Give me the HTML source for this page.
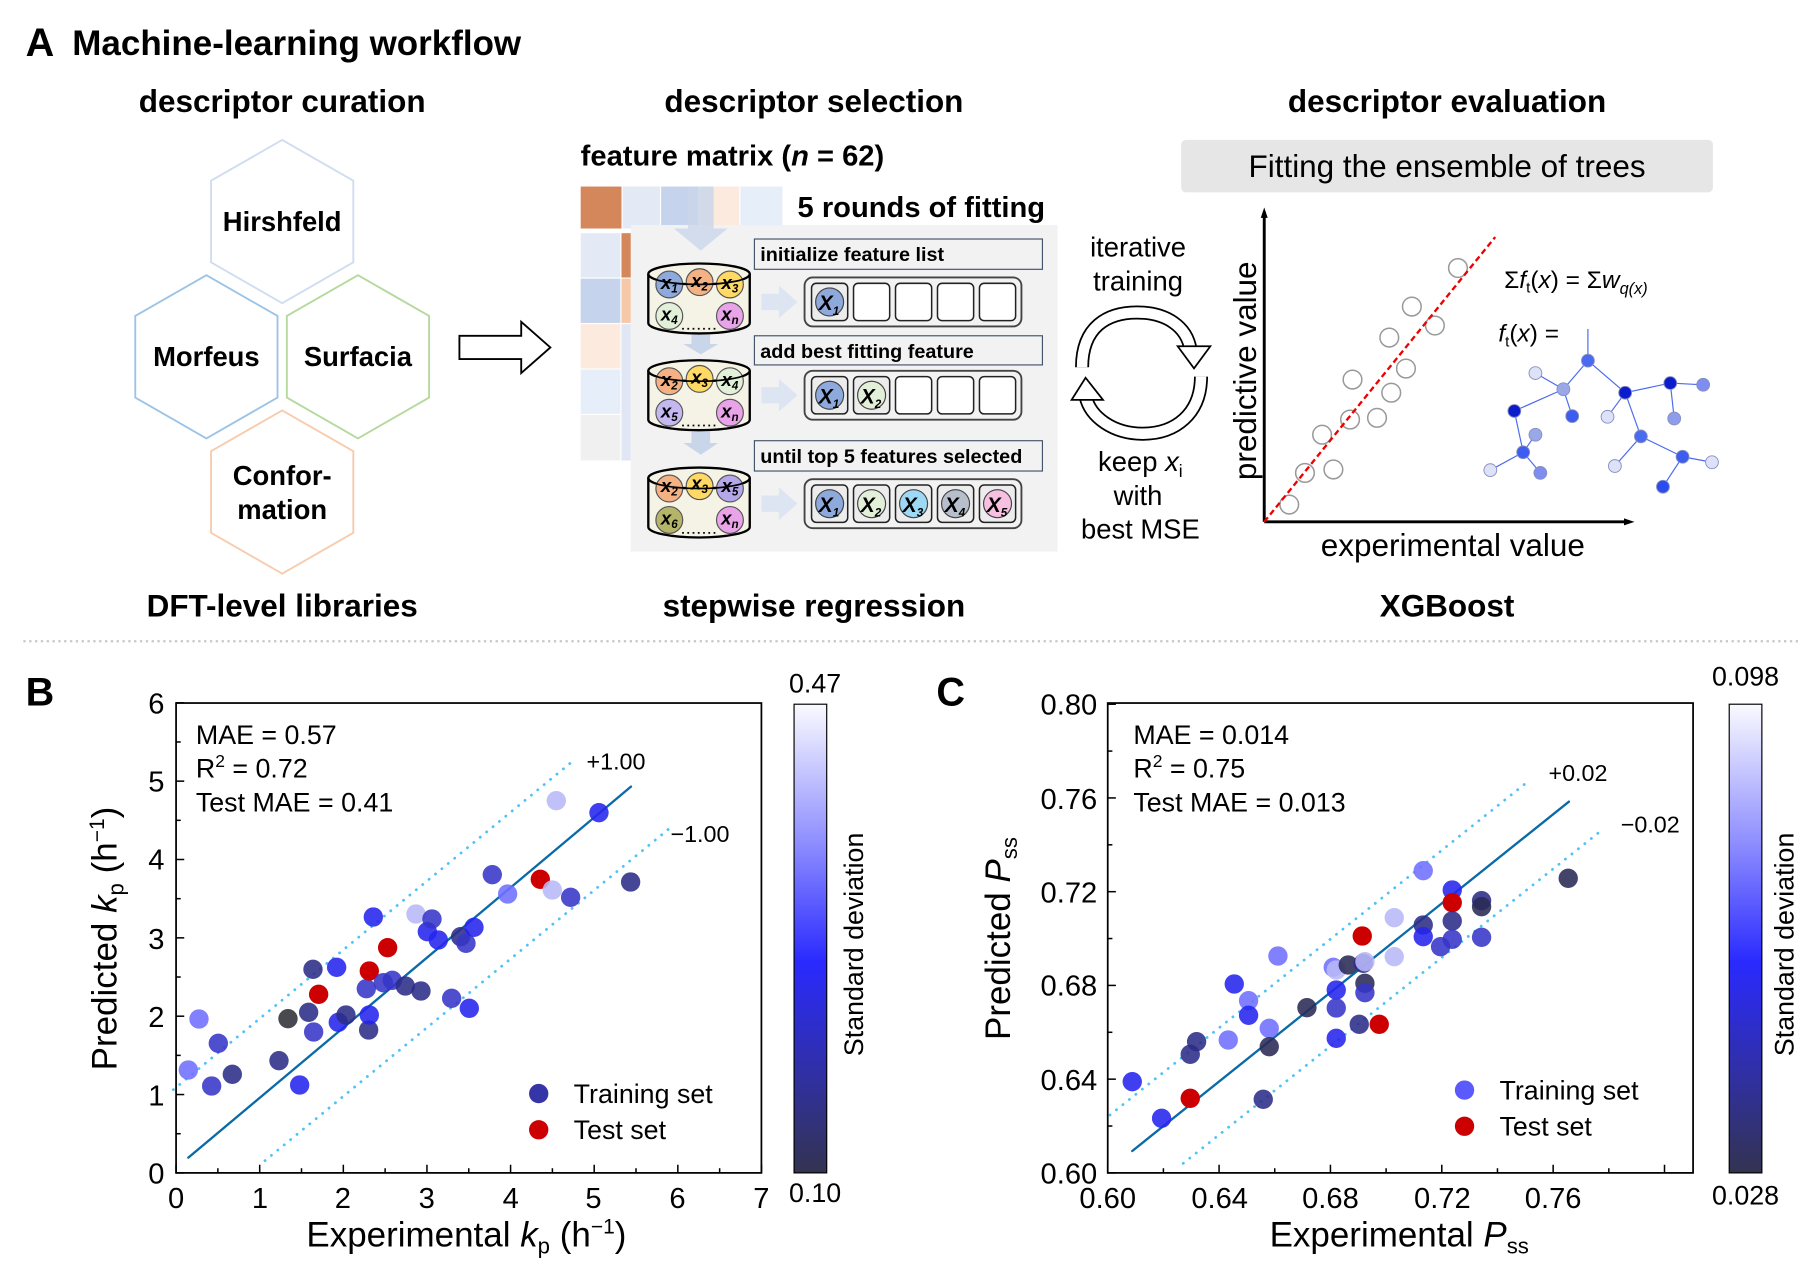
<!DOCTYPE html>
<html><head><meta charset="utf-8"><style>
html,body{margin:0;padding:0;background:#fff}
svg{display:block}
text{font-family:"Liberation Sans",Arial,sans-serif}
.b{font-weight:bold}
</style></head><body>
<svg id="s" width="1819" height="1265" viewBox="0 0 1560 1085" preserveAspectRatio="none" xmlns="http://www.w3.org/2000/svg">
<defs>
<linearGradient id="cb" x1="0" y1="0" x2="0" y2="1">
<stop offset="0" stop-color="#fafaff"/><stop offset="0.3" stop-color="#8c8cff"/><stop offset="0.55" stop-color="#2a2aff"/><stop offset="0.8" stop-color="#3030a0"/><stop offset="1" stop-color="#333350"/>
</linearGradient>
</defs>
<text x="22" y="48" font-size="34" class="b">A</text>
<text x="62" y="47" font-size="30" class="b">Machine-learning workflow</text>
<text x="242" y="96" font-size="27" class="b" text-anchor="middle">descriptor curation</text>
<text x="698" y="96" font-size="27" class="b" text-anchor="middle">descriptor selection</text>
<text x="1241" y="96" font-size="27" class="b" text-anchor="middle">descriptor evaluation</text>
<text x="242" y="529" font-size="27" class="b" text-anchor="middle">DFT-level libraries</text>
<text x="698" y="529" font-size="27" class="b" text-anchor="middle">stepwise regression</text>
<text x="1241" y="529" font-size="27" class="b" text-anchor="middle">XGBoost</text>
<line x1="20" y1="550" x2="1542" y2="550" stroke="#c8c8c8" stroke-width="2" stroke-dasharray="2,3"/>

<g fill="none" stroke-width="1.6" id="hex"></g>
<text x="242" y="198" font-size="23.5" class="b" text-anchor="middle">Hirshfeld</text>
<text x="177" y="314" font-size="23.5" class="b" text-anchor="middle">Morfeus</text>
<text x="307" y="314" font-size="23.5" class="b" text-anchor="middle">Surfacia</text>
<text x="242" y="416" font-size="23.5" class="b" text-anchor="middle">Confor-</text>
<text x="242" y="445" font-size="23.5" class="b" text-anchor="middle">mation</text>
<polygon points="394,288 447,288 447,276 472,298 447,320 447,308 394,308" fill="#fff" stroke="#000" stroke-width="1.6"/>

<text x="498" y="142" font-size="25" class="b">feature matrix (<tspan font-style="italic">n</tspan> = 62)</text>
<rect x="498" y="160" width="35" height="36" fill="#d4875a"/>
<rect x="534" y="160" width="32" height="36" fill="#e3eaf6"/>
<rect x="567" y="160" width="32" height="36" fill="#c5d3ec"/>
<rect x="600" y="160" width="34" height="36" fill="#fbeadd"/>
<rect x="635" y="160" width="36" height="36" fill="#e6eefa"/>
<rect x="498" y="200" width="34" height="38" fill="#e3eaf6"/>
<rect x="498" y="239" width="34" height="38" fill="#c5d3ec"/>
<rect x="498" y="278" width="34" height="38" fill="#fbeadd"/>
<rect x="498" y="317" width="34" height="38" fill="#e6eefa"/>
<rect x="498" y="356" width="34" height="39" fill="#f0f0f0"/>
<rect x="533" y="200" width="8" height="38" fill="#d4875a"/>
<rect x="533" y="239" width="8" height="38" fill="#f6c8a8"/>
<rect x="533" y="278" width="8" height="117" fill="#e0e6f4"/>
<rect x="541" y="193" width="366" height="280" fill="#f2f2f2"/>
<rect x="676" y="160" width="230" height="33" fill="#fff"/>
<text x="684" y="186" font-size="25" class="b">5 rounds of fitting</text>
<polygon points="590,160 612,160 612,196 624,196 601,215 578,196 590,196" fill="#c9d6ea" opacity="0.8"/>
<polygon points="593,287 609,287 609,295 616,295 601,304 586,295 593,295" fill="#c9d6ea"/>
<polygon points="593,370 609,370 609,380 616,380 601,390 586,380 593,380" fill="#c9d6ea"/>
<g font-size="17" class="b">
<rect x="647" y="205" width="247" height="26" fill="#f2f2f2" stroke="#44546a" stroke-width="1"/>
<text x="652" y="224">initialize feature list</text>
<rect x="647" y="288" width="247" height="25" fill="#f2f2f2" stroke="#44546a" stroke-width="1"/>
<text x="652" y="307">add best fitting feature</text>
<rect x="647" y="378" width="247" height="26" fill="#f2f2f2" stroke="#44546a" stroke-width="1"/>
<text x="652" y="397">until top 5 features selected</text>
</g>
<g id="cyl"></g>
<g id="rows"></g>
<g font-size="16" font-weight="bold" font-style="italic" text-anchor="middle">
<text x="574" y="248">x<tspan font-size="10" dy="3">1</tspan></text>
<text x="600" y="246">x<tspan font-size="10" dy="3">2</tspan></text>
<text x="626" y="248">x<tspan font-size="10" dy="3">3</tspan></text>
<text x="574" y="275">x<tspan font-size="10" dy="3">4</tspan></text>
<text x="626" y="275">x<tspan font-size="10" dy="3">n</tspan></text>
<text x="574" y="331">x<tspan font-size="10" dy="3">2</tspan></text>
<text x="600" y="329">x<tspan font-size="10" dy="3">3</tspan></text>
<text x="626" y="331">x<tspan font-size="10" dy="3">4</tspan></text>
<text x="574" y="358">x<tspan font-size="10" dy="3">5</tspan></text>
<text x="626" y="358">x<tspan font-size="10" dy="3">n</tspan></text>
<text x="574" y="422">x<tspan font-size="10" dy="3">2</tspan></text>
<text x="600" y="420">x<tspan font-size="10" dy="3">3</tspan></text>
<text x="626" y="422">x<tspan font-size="10" dy="3">5</tspan></text>
<text x="574" y="450">x<tspan font-size="10" dy="3">6</tspan></text>
<text x="626" y="450">x<tspan font-size="10" dy="3">n</tspan></text>
</g>
<g font-size="18" font-weight="bold" font-style="italic" text-anchor="middle">
<text x="711" y="266">X<tspan font-size="10" dy="4">1</tspan></text>
<text x="711" y="346">X<tspan font-size="10" dy="4">1</tspan></text>
<text x="747" y="346">X<tspan font-size="10" dy="4">2</tspan></text>
<text x="711" y="439">X<tspan font-size="10" dy="4">1</tspan></text>
<text x="747" y="439">X<tspan font-size="10" dy="4">2</tspan></text>
<text x="783" y="439">X<tspan font-size="10" dy="4">3</tspan></text>
<text x="819" y="439">X<tspan font-size="10" dy="4">4</tspan></text>
<text x="855" y="439">X<tspan font-size="10" dy="4">5</tspan></text>
</g>

<g font-size="23.5" text-anchor="middle">
<text x="976" y="220">iterative</text>
<text x="976" y="249">training</text>
<text x="978" y="404">keep <tspan font-style="italic">x</tspan><tspan font-size="15" dy="5">i</tspan></text>
<text x="976" y="433">with</text>
<text x="978" y="462">best MSE</text>
</g>
<g id="cyc"></g>

<rect x="1013" y="120" width="456" height="45" rx="4" fill="#e6e6e6"/>
<text x="1241" y="152" font-size="27" text-anchor="middle">Fitting the ensemble of trees</text>
<g id="xgb"></g>
<text transform="translate(1077,318) rotate(-90)" font-size="27" text-anchor="middle">predictive value</text>
<text x="1246" y="477" font-size="27" text-anchor="middle">experimental value</text>
<text x="1290" y="247" font-size="21">Σ<tspan font-style="italic">f</tspan><tspan font-size="13" dy="4">t</tspan><tspan dy="-4">(</tspan><tspan font-style="italic">x</tspan>) = Σ<tspan font-style="italic">w</tspan><tspan font-size="14" font-style="italic" dy="5">q(x)</tspan></text>
<text x="1285" y="293" font-size="21"><tspan font-style="italic">f</tspan><tspan font-size="13" dy="4">t</tspan><tspan dy="-4">(</tspan><tspan font-style="italic">x</tspan>) =</text>

<!-- Plot B -->
<text x="22" y="605" font-size="34" class="b">B</text>
<rect x="151" y="603" width="502" height="403" fill="none" stroke="#000" stroke-width="1.5"/>
<g id="pb"></g>
<g font-size="25" text-anchor="middle">
<text x="151" y="1036">0</text><text x="223" y="1036">1</text><text x="294" y="1036">2</text><text x="366" y="1036">3</text><text x="438" y="1036">4</text><text x="509" y="1036">5</text><text x="581" y="1036">6</text><text x="653" y="1036">7</text>
</g>
<g font-size="25" text-anchor="end">
<text x="141" y="1015">0</text><text x="141" y="948">1</text><text x="141" y="881">2</text><text x="141" y="814">3</text><text x="141" y="746">4</text><text x="141" y="679">5</text><text x="141" y="612">6</text>
</g>
<text x="400" y="1069" font-size="30" text-anchor="middle">Experimental <tspan font-style="italic">k</tspan><tspan font-size="19" dy="6">p</tspan><tspan dy="-6"> (h</tspan><tspan font-size="18" dy="-11">−1</tspan><tspan dy="11">)</tspan></text>
<text transform="translate(100,805) rotate(-90)" font-size="30" text-anchor="middle">Predicted <tspan font-style="italic">k</tspan><tspan font-size="19" dy="6">p</tspan><tspan dy="-6"> (h</tspan><tspan font-size="18" dy="-11">−1</tspan><tspan dy="11">)</tspan></text>
<g font-size="23">
<text x="168" y="638">MAE = 0.57</text>
<text x="168" y="667">R<tspan font-size="15" dy="-9">2</tspan><tspan dy="9"> = 0.72</tspan></text>
<text x="168" y="696">Test MAE = 0.41</text>
<text x="503" y="660" font-size="20">+1.00</text>
<text x="575" y="722" font-size="20">−1.00</text>
<text x="492" y="946">Training set</text>
<text x="492" y="977">Test set</text>
</g>
<rect x="681" y="604" width="28" height="402" fill="url(#cb)" stroke="#000" stroke-width="1"/>
<text x="699" y="594" font-size="23" text-anchor="middle">0.47</text>
<text x="699" y="1031" font-size="23" text-anchor="middle">0.10</text>
<text transform="translate(740,810) rotate(-90)" font-size="23" text-anchor="middle">Standard deviation</text>

<!-- Plot C -->
<text x="803" y="605" font-size="34" class="b">C</text>
<rect x="950" y="603" width="502" height="403" fill="none" stroke="#000" stroke-width="1.5"/>
<g id="pc"></g>
<g font-size="25" text-anchor="middle">
<text x="950" y="1036">0.60</text><text x="1046" y="1036">0.64</text><text x="1141" y="1036">0.68</text><text x="1237" y="1036">0.72</text><text x="1332" y="1036">0.76</text>
</g>
<g font-size="25" text-anchor="end">
<text x="941" y="1015">0.60</text><text x="941" y="935">0.64</text><text x="941" y="854">0.68</text><text x="941" y="774">0.72</text><text x="941" y="694">0.76</text><text x="941" y="613">0.80</text>
</g>
<text x="1200" y="1069" font-size="30" text-anchor="middle">Experimental <tspan font-style="italic">P</tspan><tspan font-size="19" dy="6">ss</tspan></text>
<text transform="translate(866,805) rotate(-90)" font-size="30" text-anchor="middle">Predicted <tspan font-style="italic">P</tspan><tspan font-size="19" dy="6">ss</tspan></text>
<g font-size="23">
<text x="972" y="638">MAE = 0.014</text>
<text x="972" y="667">R<tspan font-size="15" dy="-9">2</tspan><tspan dy="9"> = 0.75</tspan></text>
<text x="972" y="696">Test MAE = 0.013</text>
<text x="1328" y="670" font-size="20">+0.02</text>
<text x="1390" y="714" font-size="20">−0.02</text>
<text x="1286" y="943">Training set</text>
<text x="1286" y="974">Test set</text>
</g>
<rect x="1483" y="604" width="28" height="402" fill="url(#cb)" stroke="#000" stroke-width="1"/>
<text x="1497" y="588" font-size="23" text-anchor="middle">0.098</text>
<text x="1497" y="1033" font-size="23" text-anchor="middle">0.028</text>
<text transform="translate(1538,810) rotate(-90)" font-size="23" text-anchor="middle">Standard deviation</text>
</svg>
<script>
var NS="http://www.w3.org/2000/svg";
function el(p,t,a){var e=document.createElementNS(NS,t);for(var k in a)e.setAttribute(k,a[k]);document.getElementById(p).appendChild(e);return e;}
function hex(cx,cy,c){var r=70,w=61,p=[[cx,cy-r],[cx+w,cy-r/2],[cx+w,cy+r/2],[cx,cy+r],[cx-w,cy+r/2],[cx-w,cy-r/2]];el('hex','polygon',{points:p.map(function(q){return q.join(',')}).join(' '),stroke:c});}
hex(242,190,'#d0dcf0');hex(177,306,'#9dc3e6');hex(307,306,'#b5d99c');hex(242,422,'#f8cbad');
function cyl(cy,cols){var x0=556,x1=643,cx=599.5,top=cy-20,bot=cy+22;
el('cyl','path',{d:'M'+x0+','+top+' L'+x0+','+bot+' A43.5,9 0 0 0 '+x1+','+bot+' L'+x1+','+top,fill:'#f5f3e6',stroke:'#000','stroke-width':2});
el('cyl','ellipse',{cx:cx,cy:top,rx:43.5,ry:9,fill:'#f5f3e6',stroke:'#000','stroke-width':2});
var pos=[[574,cy-11],[600,cy-13],[626,cy-11],[574,cy+16],[626,cy+16]];
for(var i=0;i<5;i++)el('cyl','circle',{cx:pos[i][0],cy:pos[i][1],r:11.5,fill:cols[i],stroke:'#555','stroke-width':1});
el('cyl','path',{d:'M'+x0+','+top+' A43.5,9 0 0 0 '+x1+','+top,fill:'none',stroke:'#000','stroke-width':1.5});
el('cyl','line',{x1:585,y1:bot+5,x2:615,y2:bot+5,stroke:'#000','stroke-width':1.5,'stroke-dasharray':'1.5,3'});}
cyl(255,['#8ea9db','#f4b183','#ffd966','#e2efd9','#e9a3e9']);
cyl(338,['#f4b183','#ffd966','#e2efd9','#c5b8f0','#e9a3e9']);
cyl(430,['#f4b183','#ffd966','#b4a7ea','#b5b56a','#e9a3e9']);
function row(y,fill){el('rows','polygon',{points:'653,'+(y-7)+' 668,'+(y-7)+' 668,'+(y-14)+' 684,'+y+' 668,'+(y+14)+' 668,'+(y+7)+' 653,'+(y+7),fill:'#dde5f3'});
el('rows','rect',{x:690,y:y-21,width:186,height:42,rx:7,fill:'#f2f2f2',stroke:'#444','stroke-width':1.6});
for(var i=0;i<5;i++){el('rows','rect',{x:696+i*36,y:y-16,width:31,height:32,rx:4,fill:fill[i]?'#ececec':'#fff',stroke:'#222','stroke-width':1.3});
if(fill[i])el('rows','circle',{cx:711.5+i*36,cy:y,r:12,fill:fill[i],stroke:'#444','stroke-width':1});}}
row(259,['#8ea9db']);row(339,['#8ea9db','#e2efd9']);row(432,['#8ea9db','#e2efd9','#9dd9f5','#b8bfcc','#f7c0e0']);
function arc(d){el('cyc','path',{d:d,fill:'none',stroke:'#000','stroke-width':12});el('cyc','path',{d:d,fill:'none',stroke:'#fff','stroke-width':9});}
arc('M928,315 C928,280 950,268 975,268 C1000,268 1018,280 1021,300');
el('cyc','polygon',{points:'1010,297 1038,297 1024,316',fill:'#fff',stroke:'#000','stroke-width':1.5});
arc('M1030,323 C1030,355 1008,372 980,372 C955,372 935,358 931,340');
el('cyc','polygon',{points:'919,343 946,343 931,324',fill:'#fff',stroke:'#000','stroke-width':1.5});
function X(zx){return (1050+zx/2.039)/1.1661;} function Y(zy){return (100+zy/2.904)/1.1659;}
el('xgb','line',{x1:X(437),y1:Y(1225),x2:X(437),y2:Y(325),stroke:'#000','stroke-width':2.5});
el('xgb','polygon',{points:X(437)+','+Y(312)+' '+(X(437)-3)+','+(Y(312)+9)+' '+(X(437)+3)+','+(Y(312)+9)});
el('xgb','line',{x1:X(437),y1:Y(1225),x2:X(1180),y2:Y(1225),stroke:'#000','stroke-width':2.5});
el('xgb','polygon',{points:X(1192)+','+Y(1225)+' '+(X(1192)-9)+','+(Y(1225)-3)+' '+(X(1192)-9)+','+(Y(1225)+3)});
[[488,1175],[520,1083],[578,1073],[555,972],[612,928],[667,923],[617,812],[696,850],[726,780],[692,690],[785,655],[738,600],[832,488]].forEach(function(p){el('xgb','circle',{cx:X(p[0]),cy:Y(p[1]),r:8,fill:'none',stroke:'#999','stroke-width':1.3});});
el('xgb','line',{x1:X(437),y1:Y(1225),x2:X(908),y2:Y(398),stroke:'#e00','stroke-width':2,'stroke-dasharray':'5,3'});
var N={a:[1097,757,'#4a6af0'],b:[1047,840,'#9aa8e8'],c:[990,793,'#dde2f8'],d:[947,903,'#0a1ccc'],e:[1065,918,'#3d5cf0'],f:[1173,850,'#0a1ccc'],g:[1265,822,'#0a1ccc'],h:[1332,827,'#7e8ef0'],i:[1273,925,'#8e9ceb'],j:[1137,920,'#dde2f8'],k:[1205,977,'#4a6af0'],l:[1290,1036,'#3d5cf0'],m:[1350,1052,'#dde2f8'],n:[1250,1123,'#2a4cf0'],o:[1152,1063,'#dde2f8'],p:[965,1023,'#3d5cf0'],q:[990,972,'#9aa8e8'],r:[898,1075,'#dde2f8'],s:[1000,1083,'#7e8ef0']};
el('xgb','line',{x1:X(1097),y1:Y(665),x2:X(1097),y2:Y(757),stroke:'#4a6af0','stroke-width':1});
['ab','bc','bd','be','af','fg','gh','gi','fj','fk','kl','lm','ln','ko','dp','pq','pr','ps'].forEach(function(e){var u=N[e[0]],v=N[e[1]];el('xgb','line',{x1:X(u[0]),y1:Y(u[1]),x2:X(v[0]),y2:Y(v[1]),stroke:'#4a6af0','stroke-width':1});});
for(var k in N){var n=N[k];el('xgb','circle',{cx:X(n[0]),cy:Y(n[1]),r:5.5,fill:n[2],stroke:'#8890c0','stroke-width':0.8});}
var C={P:'#b8b8f8',L:'#7070ff',B:'#2424ee',M:'#3535c8',D:'#2c2c88',K:'#303038',R:'#cc0000',Q:'#2a2a55'};
function plot(g,ox,oy,pts,lines){
function X2(z){return (ox+z/3)/1.1661;} function Y2(z){return (oy+z/3)/1.1659;}
lines.forEach(function(l){el(g,'line',{x1:X2(l[0]),y1:Y2(l[1]),x2:X2(l[2]),y2:Y2(l[3]),stroke:l[4]?'#4fc3f7':'#0a6aa8','stroke-width':l[4]?2.4:2,'stroke-dasharray':l[4]?'0.1,7':'','stroke-linecap':'round'});});
pts.forEach(function(p){el(g,'circle',{cx:X2(p[0]),cy:Y2(p[1]),r:8.3,fill:C[p[2]],'fill-opacity':p[2]=='R'?1:0.88});});
}
plot('pb',140,690,[[145,1140,'L'],[177,987,'L'],[215,1188,'M'],[235,1060,'M'],[277,1153,'D'],[417,1112,'D'],[444,986,'K'],[479,1185,'B'],[506,967,'D'],[521,1026,'M'],[519,838,'D'],[536,913,'R'],[595,997,'B'],[590,832,'B'],[618,975,'D'],[679,896,'M'],[686,1020,'D'],[688,975,'B'],[688,843,'R'],[700,681,'B'],[730,878,'M'],[757,871,'M'],[743,773,'R'],[796,888,'D'],[843,903,'D'],[828,672,'P'],[862,725,'B'],[876,687,'M'],[895,750,'B'],[935,925,'M'],[962,740,'D'],[978,760,'M'],[988,955,'B'],[1002,712,'B'],[1057,554,'M'],[1103,612,'L'],[1201,568,'R'],[1237,600,'P'],[1249,332,'P'],[1292,622,'M'],[1377,368,'B'],[1472,576,'D']],
[[145,1403,1473,290,0],[100,1199,1300,212,1],[375,1412,1590,414,1]]);
plot('pc',1100,780,[[97,905,'B'],[185,1015,'B'],[271,955,'R'],[271,823,'D'],[290,785,'D'],[385,780,'L'],[403,612,'B'],[446,662,'L'],[446,706,'B'],[508,745,'L'],[508,800,'Q'],[490,958,'D'],[534,528,'L'],[621,683,'Q'],[709,630,'B'],[709,684,'M'],[709,775,'B'],[700,562,'L'],[709,570,'P'],[745,555,'Q'],[790,550,'D'],[795,545,'P'],[795,610,'Q'],[795,638,'M'],[778,733,'D'],[838,733,'R'],[787,468,'R'],[883,413,'P'],[883,530,'P'],[970,272,'L'],[970,435,'D'],[970,470,'B'],[1022,500,'M'],[1057,330,'B'],[1057,368,'R'],[1057,423,'D'],[1057,478,'M'],[1145,362,'D'],[1145,380,'Q'],[1145,472,'M'],[1405,295,'Q']],
[[97,1113,1407,65,0],[30,1005,1290,0,1],[250,1150,1500,155,1]]);
function tk(x1,y1,x2,y2){el('pb','line',{x1:x1,y1:y1,x2:x2,y2:y2,stroke:'#000','stroke-width':1.3});}
for(var i=0;i<=14;i++){var x=151+i*35.86;tk(x,1006,x,i%2?1002:999);}
for(var i=0;i<=12;i++){var y=1006-i*33.6;tk(151,y,i%2?155:158,y);}
for(var i=0;i<=10;i++){var x=950+i*47.75;tk(x,1006,x,i%2?1002:999);}
for(var i=0;i<=10;i++){var y=1006-i*40.2;tk(950,y,i%2?954:957,y);}
el('pb','circle',{cx:462,cy:938,r:8.3,fill:'#3535a8'});el('pb','circle',{cx:462,cy:969,r:8.3,fill:'#cc0000'});
el('pc','circle',{cx:1256,cy:935,r:8.3,fill:'#5a5aff'});el('pc','circle',{cx:1256,cy:966,r:8.3,fill:'#cc0000'});
</script>
</body></html>
